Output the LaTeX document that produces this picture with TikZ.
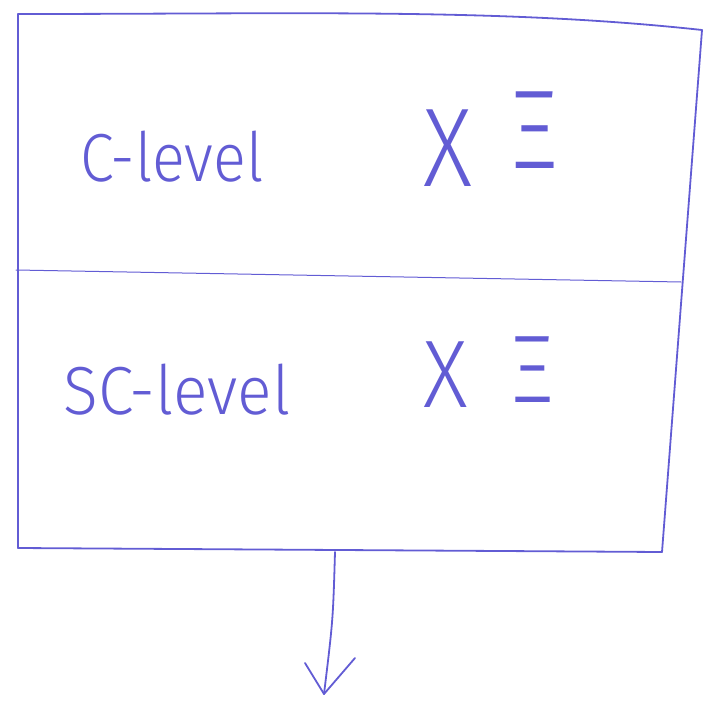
\documentclass[tikz,border=0pt]{standalone}
\usepackage{fontspec}
\setmainfont{Fira Sans Light}
\usetikzlibrary{arrows.meta}
\definecolor{pen}{RGB}{98,92,212}
\tikzset{
  penline/.style={draw=pen, line width=1.8pt, line cap=round, line join=round},
  label/.style={text=pen, font=\fontsize{68}{72}\selectfont, inner sep=0pt, transform shape, xscale=0.9},
  sym/.style={text=pen, font=\fontsize{112}{116}\selectfont, inner sep=0pt, transform shape, xscale=0.85}
}
\begin{document}
\begin{tikzpicture}[x=1pt,y=-1pt]
\useasboundingbox (0,0) rectangle (710,719);
% corners
\coordinate (tl) at (18,14);
\coordinate (tr) at (702,30);
\coordinate (br) at (662,552);
\coordinate (bl) at (18,548);
\coordinate (ml) at (16,270);
\coordinate (mr) at (681,282);
\coordinate (bot) at (335,552);
\coordinate (tip) at (324,694);
% box
\draw[penline] (tl) .. controls (300,14) and (500,8) .. (tr);
\draw[penline] (tr) -- (br);
\draw[penline] (tl) -- (bl);
\draw[penline] (bl) -- (br);
\draw[penline, line width=1pt] (ml) -- (mr);
% arrow
\draw[penline] (bot) .. controls (333,620) .. (tip);
\draw[penline] (305,663) -- (tip) -- (355,658);
% texts
\node[label] (c) at (172,157) {C-level};
\node[label, xscale=1.05] (sc) at (177,390) {SC-level};
\node[sym] (x1) at (448,148) {X};
\node[sym] (xi1) at (535,130) {Ξ};
\node[sym, font=\fontsize{96}{100}\selectfont, xscale=1.06] (x2) at (446,375) {X};
\node[sym, font=\fontsize{96}{100}\selectfont, xscale=1.06] (xi2) at (533,370) {Ξ};
\end{tikzpicture}
\end{document}
